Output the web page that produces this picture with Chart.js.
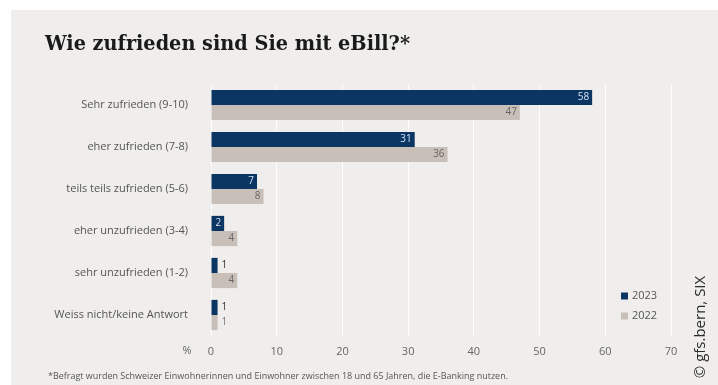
<!DOCTYPE html>
<html>
<head>
<meta charset="utf-8">
<script src="https://cdn.jsdelivr.net/npm/chart.js@4/dist/chart.umd.min.js"></script>
<style>
  html,body{margin:0;padding:0;background:#fff;}
  #wrap{width:718px;height:385px;position:relative;}
</style>
</head>
<body>
<div id="wrap"><canvas id="c" width="718" height="385"></canvas></div>
<script>
const categories = [
  "Sehr zufrieden (9-10)",
  "eher zufrieden (7-8)",
  "teils teils zufrieden (5-6)",
  "eher unzufrieden (3-4)",
  "sehr unzufrieden (1-2)",
  "Weiss nicht/keine Antwort"
];
const values2023 = [58, 31, 7, 2, 1, 1];
const values2022 = [47, 36, 8, 4, 4, 1];
const seriesLabels = ["2023", "2022"];
const xTicks = [0, 10, 20, 30, 40, 50, 60, 70];

const titleText = "Wie zufrieden sind Sie mit eBill?*";
const footnote = "*Befragt wurden Schweizer Einwohnerinnen und Einwohner zwischen 18 und 65 Jahren, die E-Banking nutzen.";
const credit = "© gfs.bern, SIX";

const navy = "#0b3562";
const beige = "#c8bfb9";
const panel = "#efeeec";

const decor = {
  id: "decor",
  beforeDraw(chart) {
    const ctx = chart.ctx;
    ctx.save();
    ctx.fillStyle = "#ffffff";
    ctx.fillRect(0, 0, chart.width, chart.height);
    ctx.fillStyle = panel;
    ctx.fillRect(11, 10, chart.width - 11, chart.height - 10);
    ctx.restore();
  },
  afterDraw(chart) {
    const ctx = chart.ctx;
    ctx.save();
    // title
    ctx.fillStyle = "#1a1a1a";
    ctx.font = "bold 21px 'DejaVu Serif', serif";
    ctx.textBaseline = "alphabetic";
    ctx.textAlign = "left";
    const tw = ctx.measureText(titleText).width;
    ctx.translate(45, 50);
    ctx.scale(365 / tw, 1);
    ctx.fillText(titleText, 0, 0);
    ctx.restore();

    ctx.save();
    // percent sign
    ctx.fillStyle = "#666";
    ctx.font = "11px 'Open Sans', sans-serif";
    ctx.textBaseline = "middle";
    ctx.textAlign = "center";
    ctx.fillText("%", 187, 351);
    // footnote
    ctx.fillStyle = "#555";
    ctx.font = "9px 'Open Sans', sans-serif";
    ctx.textAlign = "left";
    const fw = ctx.measureText(footnote).width;
    ctx.save();
    ctx.translate(48, 376);
    ctx.scale(460 / fw, 1);
    ctx.fillText(footnote, 0, 0);
    ctx.restore();
    // credit rotated
    ctx.translate(701, 327);
    ctx.rotate(-Math.PI / 2);
    ctx.fillStyle = "#2a2a2a";
    ctx.font = "15px 'Open Sans', sans-serif";
    ctx.textAlign = "center";
    ctx.fillText(credit, 0, 0);
    ctx.restore();

    // legend
    ctx.save();
    ctx.font = "11px 'Open Sans', sans-serif";
    ctx.textBaseline = "middle";
    ctx.textAlign = "left";
    chart.data.datasets.forEach((ds, i) => {
      const y = 296 + i * 20;
      ctx.fillStyle = ds.backgroundColor;
      ctx.fillRect(621, y - 3.5, 7, 7);
      ctx.fillStyle = "#555";
      ctx.fillText(ds.label, 632, y);
    });
    ctx.restore();
  }
};

const barLabels = {
  id: "barLabels",
  afterDatasetsDraw(chart) {
    const ctx = chart.ctx;
    ctx.save();
    ctx.font = "10px 'Open Sans', sans-serif";
    ctx.textBaseline = "middle";
    chart.data.datasets.forEach((ds, di) => {
      const meta = chart.getDatasetMeta(di);
      meta.data.forEach((bar, i) => {
        const v = ds.data[i];
        const w = bar.x - bar.base;
        const txt = String(v);
        const tw = ctx.measureText(txt).width;
        if (w > tw + 5) {
          ctx.textAlign = "right";
          ctx.fillStyle = di === 0 ? "#cfe2f3" : "#666";
          ctx.fillText(txt, bar.x - 3, bar.y);
        } else {
          ctx.textAlign = "left";
          ctx.fillStyle = di === 0 ? "#333" : "#777";
          ctx.fillText(txt, bar.x + 4, bar.y);
        }
      });
    });
    ctx.restore();
  }
};

new Chart(document.getElementById("c"), {
  type: "bar",
  data: {
    labels: categories,
    datasets: [
      { label: seriesLabels[0], data: values2023, backgroundColor: navy },
      { label: seriesLabels[1], data: values2022, backgroundColor: beige }
    ]
  },
  options: {
    indexAxis: "y",
    responsive: false,
    animation: false,
    devicePixelRatio: 1,
    layout: { padding: { top: 84, right: 47, left: 0, bottom: 0 } },
    categoryPercentage: 0.72,
    barPercentage: 1.0,
    plugins: { legend: { display: false }, tooltip: { enabled: false } },
    scales: {
      x: {
        min: 0, max: 70,
        afterFit(s) { s.height = 49; },
        afterBuildTicks(s) { s.ticks = xTicks.map(v => ({ value: v })); },
        grid: { color: "rgba(255,255,255,0.85)", lineWidth: 1, drawTicks: false },
        border: { display: false },
        ticks: { color: "#666", font: { size: 11, family: "'Open Sans', sans-serif" }, padding: 9 }
      },
      y: {
        afterFit(s) { s.width = 211; },
        grid: { display: false },
        border: { display: false },
        ticks: { color: "#555", font: { size: 11, family: "'Open Sans', sans-serif" }, padding: 15 }
      }
    }
  },
  plugins: [decor, barLabels]
});
</script>
</body>
</html>
